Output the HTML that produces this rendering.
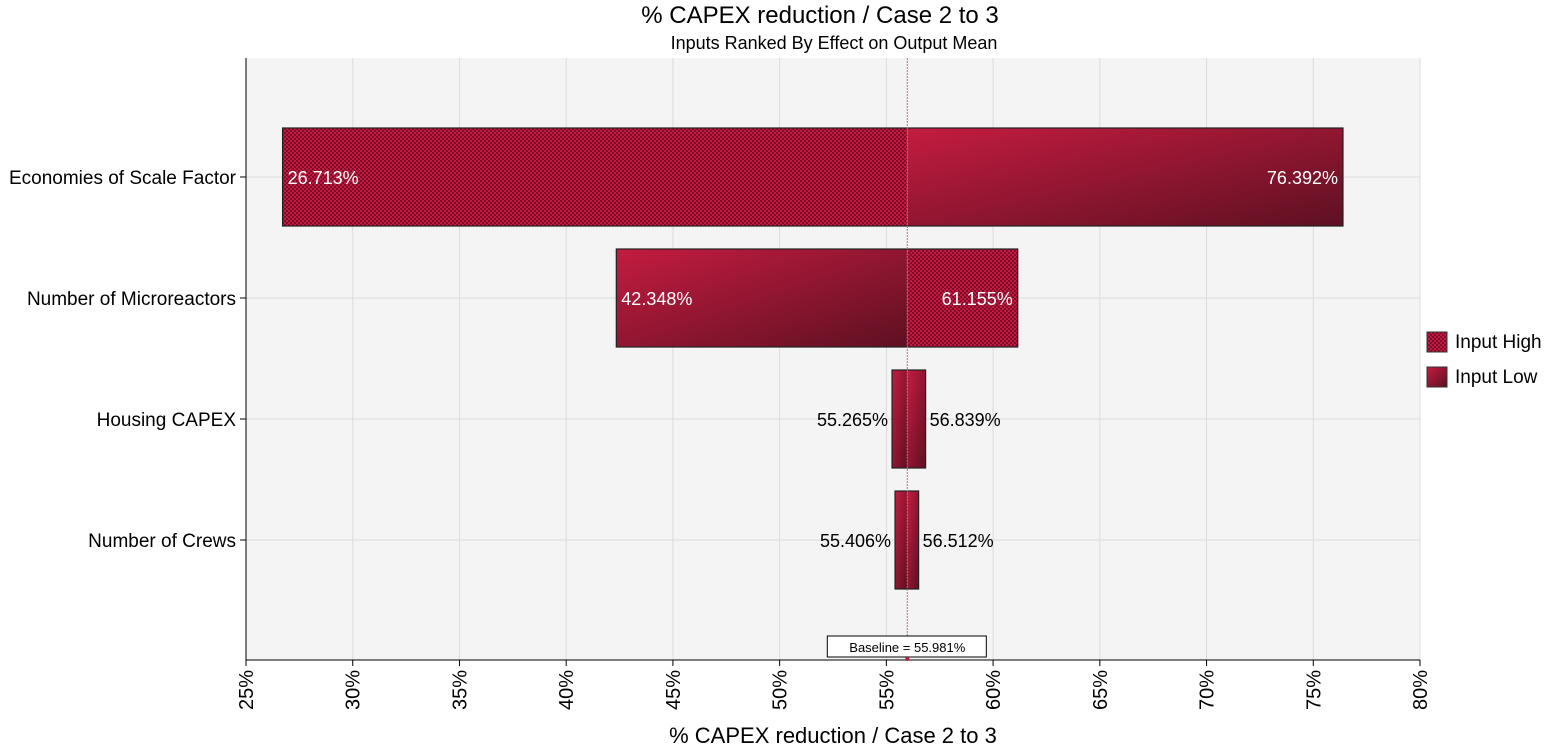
<!DOCTYPE html>
<html><head><meta charset="utf-8"><style>
body{margin:0;background:#fff;font-family:"Liberation Sans",sans-serif;}
svg text{font-family:"Liberation Sans",sans-serif;}
</style></head><body>
<svg id="chart" width="1550" height="749" xmlns="http://www.w3.org/2000/svg">
<defs>
<pattern id="hatch" width="4" height="4" patternUnits="userSpaceOnUse">
<rect width="4" height="4" fill="#c4183f"/><rect width="2" height="2" fill="#7e0f2b"/><rect x="2" y="2" width="2" height="2" fill="#7e0f2b"/>
</pattern>
<linearGradient id="grad" x1="0" y1="0" x2="1" y2="1">
<stop offset="0" stop-color="#c41c40"/><stop offset="1" stop-color="#5e1022"/>
</linearGradient>
</defs>
<rect x="246" y="58" width="1174" height="602" fill="#f4f4f4"/>
<g id="grid"></g>
<g id="bars"></g>
<text x="820" y="23" text-anchor="middle" font-size="24" fill="#000">% CAPEX reduction / Case 2 to 3</text>
<text x="834" y="49" text-anchor="middle" font-size="18" fill="#000">Inputs Ranked By Effect on Output Mean</text>
<text x="833" y="743" text-anchor="middle" font-size="22" fill="#000">% CAPEX reduction / Case 2 to 3</text>
<g>
<rect x="1427" y="332" width="20" height="20" fill="url(#hatch)" stroke="#333"/>
<text x="1455" y="348" font-size="19">Input High</text>
<rect x="1427" y="367" width="20" height="20" fill="url(#grad)" stroke="#333"/>
<text x="1455" y="383" font-size="19">Input Low</text>
</g>
</svg>
<script>
const categories=["Economies of Scale Factor","Number of Microreactors","Housing CAPEX","Number of Crews"];
const lowValues=[26.713,42.348,55.265,55.406];
const highValues=[76.392,61.155,56.839,56.512];
const leftIsHigh=[true,false,false,false];
const baseline=55.981;
const xTicks=[25,30,35,40,45,50,55,60,65,70,75,80];
const NS="http://www.w3.org/2000/svg";
const X0=246,X1=1420,Y0=58,Y1=660;
const xs=v=>X0+(v-25)/55*(X1-X0);
const band=121,yc=i=>177+i*band;
function mk(t,a,p){const e=document.createElementNS(NS,t);for(const k in a)e.setAttribute(k,a[k]);p.appendChild(e);return e;}
const grid=document.getElementById('grid'),bars=document.getElementById('bars'),svg=document.getElementById('chart');
xTicks.forEach(t=>{
 const g=mk('line',{x1:xs(t),x2:xs(t),y1:Y0,y2:Y1,stroke:'#dcdcdc'},grid);
 
 
 const tk=mk('line',{x1:xs(t),x2:xs(t),y1:Y1,y2:Y1+6,stroke:'#000'},svg);
 
 
 const lb=mk('text',{x:0,y:0,'font-size':20,'text-anchor':'end',transform:`translate(${xs(t)+7},${Y1+10}) rotate(-90)`},svg);
 lb.textContent=t+'%';
 
 
});
categories.forEach((c,i)=>{
 const g=mk('line',{x1:X0,x2:X1,y1:yc(i),y2:yc(i),stroke:'#dcdcdc'},grid);
 
 
 const tk=mk('line',{x1:X0-6,x2:X0,y1:yc(i),y2:yc(i),stroke:'#000'},svg);
 
 
 const lb=mk('text',{x:X0-10,y:yc(i)+7,'font-size':19,'text-anchor':'end'},svg);
 lb.textContent=c;
 
 
 const lo=lowValues[i],hi=highValues[i],xb=xs(baseline),xl=xs(lo),xh=xs(hi);
 const top=yc(i)-49,h=98,big=(hi-lo)>5;
 const lf=big&&leftIsHigh[i]?'url(#hatch)':'url(#grad)';
 const rf=big&&!leftIsHigh[i]?'url(#hatch)':'url(#grad)';
 const a=mk('rect',{x:xl,y:top,width:xb-xl,height:h,fill:lf},bars);
 
 
 const b=mk('rect',{x:xb,y:top,width:xh-xb,height:h,fill:rf},bars);
 
 
 const o=mk('rect',{x:xl,y:top,width:xh-xl,height:h,fill:'none',stroke:'#222','stroke-width':1.2},bars);
 
 
 const inside=big;
 const t1=mk('text',{x:inside?xl+5:xl-4,y:yc(i)+7,'font-size':18,'text-anchor':inside?'start':'end',fill:inside?'#fff':'#000'},bars);
 t1.textContent=lo.toFixed(3)+'%';
 
 
 const t2=mk('text',{x:inside?xh-5:xh+4,y:yc(i)+7,'font-size':18,'text-anchor':inside?'end':'start',fill:inside?'#fff':'#000'},bars);
 t2.textContent=hi.toFixed(3)+'%';
 
 
});
const bx=xs(baseline);
const bl=mk('line',{x1:bx,x2:bx,y1:Y0,y2:Y1,stroke:'#d9607a','stroke-width':1,'stroke-dasharray':'2,1'},svg);


const ax1=mk('line',{x1:X0,x2:X0,y1:Y0,y2:Y1,stroke:'#000'},svg);


const ax2=mk('line',{x1:X0,x2:X1,y1:Y1,y2:Y1,stroke:'#000'},svg);


const bb=mk('rect',{x:bx-80,y:636,width:159,height:21,fill:'#fff',stroke:'#000'},svg);


const bt=mk('text',{x:bx,y:652,'font-size':13,'text-anchor':'middle'},svg);
bt.textContent='Baseline = '+baseline.toFixed(3)+'%';


const dot=mk('circle',{cx:bx,cy:659,r:2,fill:'#b02040'},svg);


</script>
</body></html>
